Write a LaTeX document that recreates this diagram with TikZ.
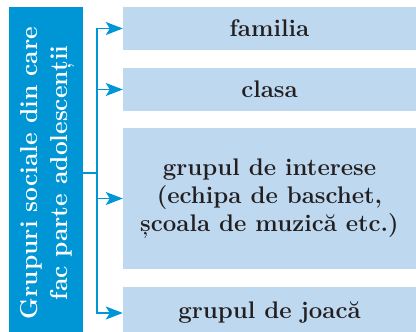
\documentclass[tikz,border=0pt]{standalone}
\usepackage{fontspec}
\usetikzlibrary{arrows.meta}
\definecolor{grpblue}{HTML}{0096D6}
\definecolor{boxblue}{HTML}{BDD8EF}
\definecolor{textdark}{HTML}{231F20}
\tikzset{
 itembox/.style={fill=boxblue, minimum width=293, inner sep=0, text=textdark,
   font=\bfseries\fontsize{24}{28}\selectfont, align=center},
 branch/.style={grpblue, line width=1.6pt},
 branchtip/.style={-{Stealth[length=17pt,width=13pt,inset=4pt]}},
}
\begin{document}
\begin{tikzpicture}[x=1pt,y=1pt]
\useasboundingbox (0,0) rectangle (416,332);
\clip (0,0) rectangle (416,332);
\node[fill=grpblue, minimum width=74, minimum height=332, inner sep=0] (grp) at (46,159) {};
\node[rotate=90, text=white, font=\bfseries\fontsize{24.5}{30}\selectfont, align=center] (grptext) at (47.5,159) {Grupuri sociale din care\\fac parte adolescenții};
\node[itembox, minimum height=43] (fam) at (269.5,303.5) {familia};
\node[itembox, minimum height=43] (cls) at (269.5,242.5) {clasa};
\node[itembox, minimum height=141] (int) at (269.5,133.5) {grupul de interese\\(echipa de baschet,\\școala de muzică etc.)};
\node[itembox, minimum height=52] (joc) at (269.5,19) {grupul de joacă};
\path (grp.east) ++(14,0) coordinate (fork);
\draw[branch] (grp.east) -- (fork);
\draw[branch, line cap=rect] (fork |- fam.west) -- (fork |- joc.west);
\foreach \b in {fam,cls,int,joc} {
 \draw[branch, branchtip] (fork |- \b.west) -- (\b.west);
}
\end{tikzpicture}
\end{document}
